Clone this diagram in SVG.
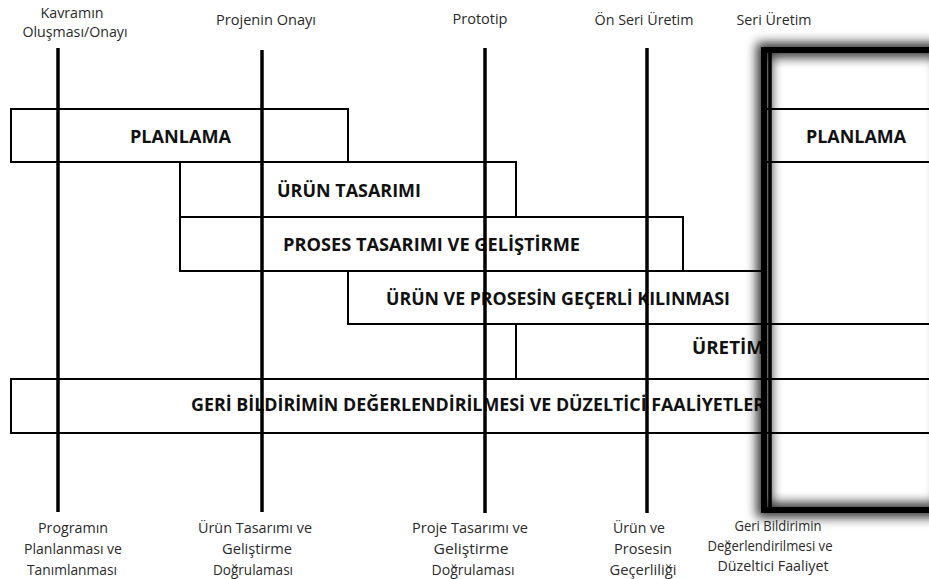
<svg xmlns="http://www.w3.org/2000/svg" width="929" height="579" viewBox="0 0 929 579">
  <defs>
    <style>
      .lbl { font-family: "Open Sans", "Liberation Sans", sans-serif; font-size: 14px; fill: #2a2a2a; text-anchor: middle; }
      .bar { font-family: "Open Sans", "Liberation Sans", sans-serif; font-size: 18px; font-weight: bold; fill: #111; }
      .box { fill: none; stroke: #000; stroke-width: 2; }
      .mile { stroke: #000; stroke-width: 3.5; fill: none; }
      .frame { fill: none; stroke: #000; stroke-width: 6; }
    </style>
    <filter id="glow" x="-20%" y="-10%" width="140%" height="120%">
      <feGaussianBlur stdDeviation="5.5"/>
    </filter>
  </defs>

  <rect width="929" height="579" fill="#fff"/>

  <!-- milestone captions -->
  <g id="top-labels">
    <text class="lbl" x="72" y="18" textLength="63" lengthAdjust="spacingAndGlyphs">Kavramın</text>
    <text class="lbl" x="75" y="37" textLength="105" lengthAdjust="spacingAndGlyphs">Oluşması/Onayı</text>
    <text class="lbl" x="266" y="25" textLength="100" lengthAdjust="spacingAndGlyphs">Projenin Onayı</text>
    <text class="lbl" x="480" y="24" textLength="55" lengthAdjust="spacingAndGlyphs">Prototip</text>
    <text class="lbl" x="644" y="25" textLength="99" lengthAdjust="spacingAndGlyphs">Ön Seri Üretim</text>
    <text class="lbl" x="774" y="25" textLength="75" lengthAdjust="spacingAndGlyphs">Seri Üretim</text>
  </g>

  <!-- phase bars -->
  <g id="planlama">
    <rect class="box" x="11" y="109" width="337" height="53"/>
    <text class="bar" x="130" y="143" textLength="101" lengthAdjust="spacingAndGlyphs">PLANLAMA</text>
  </g>
  <g id="urun-tasarimi">
    <rect class="box" x="180" y="162" width="336" height="55"/>
    <text class="bar" x="277" y="197" textLength="144" lengthAdjust="spacingAndGlyphs">ÜRÜN TASARIMI</text>
  </g>
  <g id="proses-tasarimi">
    <rect class="box" x="180" y="217" width="503" height="54"/>
    <text class="bar" x="283" y="251" textLength="297" lengthAdjust="spacingAndGlyphs">PROSES TASARIMI VE GELİŞTİRME</text>
  </g>
  <g id="gecerli-kilinma">
    <rect class="box" x="348" y="271" width="415" height="53"/>
    <text class="bar" x="386" y="305" textLength="344" lengthAdjust="spacingAndGlyphs">ÜRÜN VE PROSESİN GEÇERLİ KILINMASI</text>
  </g>
  <g id="uretim">
    <path class="box" d="M935 324 H516 V379 H935"/>
    <text class="bar" x="692" y="354" textLength="72" lengthAdjust="spacingAndGlyphs">ÜRETİM</text>
  </g>
  <g id="geri-bildirim">
    <path class="box" d="M935 379 H11 V433 H935"/>
    <text class="bar" x="191" y="411" textLength="574" lengthAdjust="spacingAndGlyphs">GERİ BİLDİRİMİN DEĞERLENDİRİLMESİ VE DÜZELTİCİ FAALİYETLER</text>
  </g>
  <g id="planlama-seri">
    <path class="box" d="M763 109 H935 M763 162 H935"/>
    <text class="bar" x="806" y="143" textLength="100" lengthAdjust="spacingAndGlyphs">PLANLAMA</text>
  </g>

  <!-- milestone lines -->
  <g id="connectors">
    <line class="mile" x1="58" y1="48" x2="58" y2="512"/>
    <line class="mile" x1="262" y1="50" x2="262" y2="512"/>
    <line class="mile" x1="485" y1="48" x2="485" y2="513"/>
    <line class="mile" x1="647" y1="48" x2="647" y2="513"/>
    <line class="mile" x1="770" y1="50" x2="770" y2="510"/>
  </g>

  <!-- highlighted series-production frame -->
  <g id="seri-uretim-frame">
    <rect x="764" y="50" width="180" height="460" fill="none" stroke="#000" stroke-width="15" opacity="0.8" filter="url(#glow)"/>
    <rect class="frame" x="764" y="50" width="180" height="460"/>
  </g>

  <!-- outcome captions -->
  <g id="bottom-labels">
    <text class="lbl" x="73" y="533" textLength="70" lengthAdjust="spacingAndGlyphs">Programın</text>
    <text class="lbl" x="73" y="554" textLength="98" lengthAdjust="spacingAndGlyphs">Planlanması ve</text>
    <text class="lbl" x="72" y="575" textLength="90" lengthAdjust="spacingAndGlyphs">Tanımlanması</text>

    <text class="lbl" x="255" y="533" textLength="114" lengthAdjust="spacingAndGlyphs">Ürün Tasarımı ve</text>
    <text class="lbl" x="257" y="554" textLength="70" lengthAdjust="spacingAndGlyphs">Geliştirme</text>
    <text class="lbl" x="253" y="575" textLength="80" lengthAdjust="spacingAndGlyphs">Doğrulaması</text>

    <text class="lbl" x="470" y="533" textLength="116" lengthAdjust="spacingAndGlyphs">Proje Tasarımı ve</text>
    <text class="lbl" x="471" y="554" textLength="75" lengthAdjust="spacingAndGlyphs">Geliştirme</text>
    <text class="lbl" x="473" y="575" textLength="83" lengthAdjust="spacingAndGlyphs">Doğrulaması</text>

    <text class="lbl" x="639" y="533" textLength="52" lengthAdjust="spacingAndGlyphs">Ürün ve</text>
    <text class="lbl" x="643" y="554" textLength="58" lengthAdjust="spacingAndGlyphs">Prosesin</text>
    <text class="lbl" x="643" y="575" textLength="67" lengthAdjust="spacingAndGlyphs">Geçerliliği</text>

    <text class="lbl" x="778" y="531" textLength="87" lengthAdjust="spacingAndGlyphs">Geri Bildirimin</text>
    <text class="lbl" x="770" y="551" textLength="125" lengthAdjust="spacingAndGlyphs">Değerlendirilmesi ve</text>
    <text class="lbl" x="773" y="571" textLength="111" lengthAdjust="spacingAndGlyphs">Düzeltici Faaliyet</text>
  </g>
</svg>
